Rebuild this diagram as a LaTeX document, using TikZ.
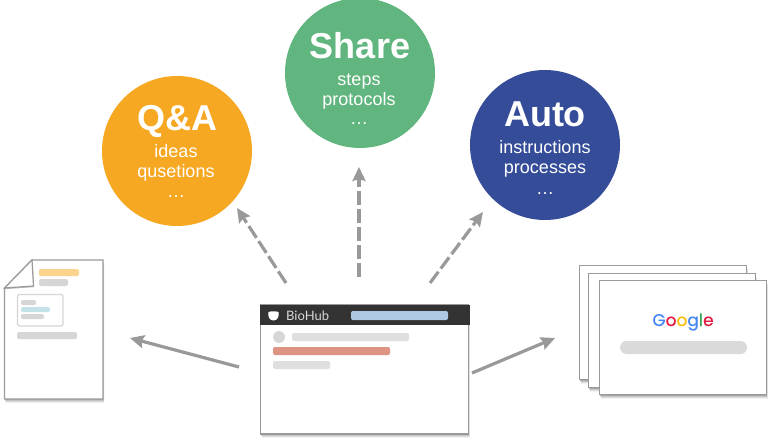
\documentclass[tikz,border=0pt]{standalone}
\usepackage{fontspec}
\setmainfont{Liberation Sans}
\newfontfamily\googlefont{Poppins}
\newfontfamily\hubfont{Lato}
\usetikzlibrary{arrows.meta,shadows}
\definecolor{arrowgray}{HTML}{999999}
\definecolor{framegray}{HTML}{9A9A9A}
\definecolor{bargray}{HTML}{DFDFDF}
\definecolor{docgray}{HTML}{D6D6D6}
\definecolor{qaorange}{HTML}{F7A823}
\definecolor{sharegreen}{HTML}{60B67E}
\definecolor{autoblue}{HTML}{354D98}
\definecolor{headdark}{HTML}{333333}
\definecolor{barorange}{HTML}{FBD38D}
\definecolor{barteal}{HTML}{C3E3E8}
\definecolor{barblue}{HTML}{AEC7E2}
\definecolor{barred}{HTML}{DE9482}
\definecolor{gblue}{HTML}{4285F4}
\definecolor{gred}{HTML}{E4173E}
\definecolor{gyellow}{HTML}{FBBC05}
\definecolor{ggreen}{HTML}{34A853}
\tikzset{
  softshadow/.style={
    drop shadow={shadow xshift=0pt,shadow yshift=-1pt,fill=black,opacity=.14},
    drop shadow={shadow xshift=0.5pt,shadow yshift=-2pt,fill=black,opacity=.12},
    drop shadow={shadow xshift=1pt,shadow yshift=-3pt,fill=black,opacity=.08},
    drop shadow={shadow xshift=1pt,shadow yshift=-4pt,fill=black,opacity=.05}},
  bubble/.style={circle,minimum size=150pt,inner sep=0pt,text=white},
  bubbletitle/.style={text=white,font=\fontsize{36}{36}\selectfont\bfseries,inner sep=0pt,anchor=base},
  bubbleline/.style={text=white,font=\fontsize{18}{18}\selectfont,inner sep=0pt,anchor=base},
  sheet/.style={draw=framegray,line width=1.4pt,fill=white,inner sep=0pt,softshadow},
  bar/.style={rounded corners=2pt},
  dasharrow/.style={draw=arrowgray,line width=3.2pt,dash pattern=on 14pt off 4pt,-{Stealth[length=14pt,width=13pt,inset=2pt]}},
  solidarrow/.style={draw=arrowgray,line width=3.2pt,-{Stealth[length=14pt,width=13pt,inset=2pt]}},
}
\begin{document}
\begin{tikzpicture}[x=1pt,y=-1pt]
\useasboundingbox (0,0) rectangle (771,441);

% bubbles
\node[bubble,fill=qaorange] (qa) at (177,151) {};
\node[bubble,fill=sharegreen] (share) at (360,73) {};
\node[bubble,fill=autoblue] (auto) at (545,145) {};

\node[bubbletitle] (qat) at (177.5,130.5) {Q\&A};
\node[bubbleline] (qa1) at (176,157.5) {ideas};
\node[bubbleline] (qa2) at (176,177.5) {qusetions};
\node[bubbleline] (qa3) at (176,197) {…};

\node[bubbletitle] (sht) at (360,58.5) {Share};
\node[bubbleline] (sh1) at (359,85.5) {steps};
\node[bubbleline] (sh2) at (359,105.5) {protocols};
\node[bubbleline] (sh3) at (359,125) {…};

\node[bubbletitle] (aut) at (545,126.5) {Auto};
\node[bubbleline] (au1) at (545,153.5) {instructions};
\node[bubbleline] (au2) at (545,173.5) {processes};
\node[bubbleline] (au3) at (545,194) {…};

% left document
\path[draw=framegray,line width=1.3pt,fill=white,softshadow]
  (32,260) -- (103,260) -- (103,399) -- (4.5,399) -- (4.5,288) -- cycle;
\path[draw=framegray,line width=1.2pt,fill=white,drop shadow={shadow xshift=0.5pt,shadow yshift=-1.2pt,fill=black,opacity=.25}]
  (32,260) -- (33.5,286) -- (4.5,288) -- cycle;
\fill[bar,fill=barorange] (39,269) rectangle (79,276);
\fill[bar,fill=docgray] (39,279) rectangle (68,286);
\draw[rounded corners=1.5pt,draw=docgray,line width=1.4pt] (17.5,294.5) rectangle (63,326);
\fill[bar,fill=docgray] (21,300) rectangle (36,305);
\fill[bar,fill=barteal] (21,307) rectangle (50,312);
\fill[bar,fill=docgray] (21,314) rectangle (44,319);
\fill[bar,fill=docgray] (17,332) rectangle (77,339);

% BioHub window
\node[sheet,minimum width=208pt,minimum height=129pt] (win) at (364.5,369.5) {};
\fill[headdark] (260,305) rectangle (470,325);
\fill[white] (268.5,312) .. controls (271,311) and (276,311) .. (278.5,312)
  .. controls (279.5,317) and (277,320.5) .. (273.5,320.5)
  .. controls (270,320.5) and (267.5,317) .. (268.5,312) -- cycle;
\node[text=white!85!black,font=\hubfont\fontsize{13}{14}\selectfont,inner sep=0pt,anchor=west] (hub) at (286,316) {BioHub};
\fill[bar,fill=barblue] (351,311) rectangle (448,320);
\fill[docgray] (279,337) circle (6);
\fill[bar,fill=bargray] (292,333) rectangle (409,341);
\fill[bar,fill=barred] (273,347) rectangle (390,355);
\fill[bar,fill=bargray] (273,361) rectangle (330,369);

% stacked pages
\node[sheet,minimum width=167pt,minimum height=114pt] (p1) at (663,322.5) {};
\node[sheet,minimum width=167pt,minimum height=114pt] (p2) at (672,330.5) {};
\node[sheet,minimum width=167pt,minimum height=114pt] (p3) at (683,337.5) {};
\node[inner sep=0pt,font=\googlefont\fontsize{17}{17}\selectfont\addfontfeature{FakeBold=0.3}] (goog) at (683,322)
  {\textcolor{gblue}{G}\textcolor{gred}{o}\textcolor{gyellow}{o}\textcolor{gblue}{g}\textcolor{ggreen}{l}\textcolor{gred}{e}};
\fill[rounded corners=6.5pt,fill=docgray!90!white] (620,341) rectangle (747,354);

% connectors
\coordinate (s1) at (286,283); \coordinate (e1) at (237,208);
\coordinate (s2) at (359,277); \coordinate (e2) at (359,167);
\coordinate (s3) at (430,283); \coordinate (e3) at (483,212);
\coordinate (s4) at (239,367); \coordinate (e4) at (130,338);
\coordinate (s5) at (472,373); \coordinate (e5) at (555,338);
\draw[dasharrow] (s1) -- (e1);
\draw[dasharrow] (s2) -- (e2);
\draw[dasharrow] (s3) -- (e3);
\draw[solidarrow] (s4) -- (e4);
\draw[solidarrow] (s5) -- (e5);
\end{tikzpicture}
\end{document}
